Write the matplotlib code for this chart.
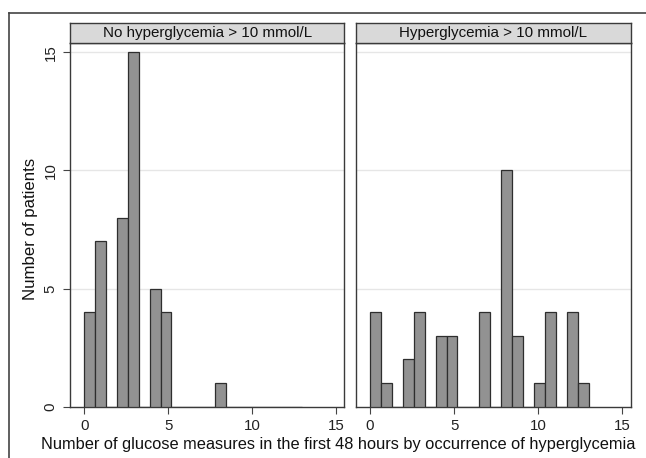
import numpy as np
import matplotlib
matplotlib.use("Agg")
import matplotlib.pyplot as plt
from matplotlib.lines import Line2D

plt.rcParams['font.family'] = ['Liberation Sans', 'DejaVu Sans']

# Data: number of glucose measures (value) and number of patients (count)
panel_titles = ["No hyperglycemia > 10 mmol/L", "Hyperglycemia > 10 mmol/L"]
no_hyper_values = [0, 1, 2, 3, 4, 5, 8]
no_hyper_counts = [4, 7, 8, 15, 5, 4, 1]
hyper_values = [0, 1, 2, 3, 4, 5, 7, 8, 9, 10, 11, 12, 13]
hyper_counts = [4, 1, 2, 4, 3, 3, 4, 10, 3, 1, 4, 4, 1]
x_ticks = [0, 5, 10, 15]
y_ticks = [0, 5, 10, 15]
xlabel = "Number of glucose measures in the first 48 hours by occurrence of hyperglycemia"
ylabel = "Number of patients"

bins = np.linspace(0, 13, 21)

W, H = 646, 458
fig = plt.figure(figsize=(W / 100, H / 100), dpi=100)
fig.patch.set_facecolor("white")

def fx(px):
    return px / W

def fy(py):
    return 1 - py / H

panels = [
    (70.0, 344.3, no_hyper_values, no_hyper_counts),
    (355.7, 630.7, hyper_values, hyper_counts),
]
top_px, bot_px = 43.3, 406.7
strip_top = 23.3
edge = "#3a3a3a"

for i, (x0, x1, vals, cnts) in enumerate(panels):
    ax = fig.add_axes([fx(x0), fy(bot_px), fx(x1 - x0), (bot_px - top_px) / H])
    ax.hist(vals, bins=bins, weights=cnts, color="#929292", edgecolor="#2e2e2e",
            linewidth=0.9, zorder=3)
    ax.set_xlim(-0.85, 15.5)
    ax.set_ylim(0, 15.38)
    for yv in y_ticks[1:]:
        ax.axhline(yv, color="#e6e6e6", lw=1.0, zorder=1)
    ax.set_xticks(x_ticks)
    ax.set_xticklabels([str(t) for t in x_ticks], fontsize=10.8, color="#222222")
    ax.tick_params(axis="x", direction="out", length=5, width=0.8, color="#444444", pad=4)
    if i == 0:
        ax.set_yticks(y_ticks)
        ax.set_yticklabels([str(t) for t in y_ticks], fontsize=10.8, rotation=90,
                           va="center", color="#222222")
        ax.tick_params(axis="y", direction="out", length=5, width=0.8, color="#444444", pad=4)
    else:
        ax.set_yticks([])
    for s in ax.spines.values():
        s.set_color(edge)
        s.set_linewidth(1.0)
    # strip header
    sax = fig.add_axes([fx(x0), fy(top_px), fx(x1 - x0), (top_px - strip_top) / H])
    sax.set_xticks([])
    sax.set_yticks([])
    sax.set_facecolor("#d9d9d9")
    for s in sax.spines.values():
        s.set_color(edge)
        s.set_linewidth(1.0)
    sax.text(0.5, 0.5, panel_titles[i], ha="center", va="center", fontsize=10.9,
             color="#111111", transform=sax.transAxes)

fig.text(fx(338.5), fy(445), xlabel, ha="center", va="center", fontsize=11.8, color="#111111")
fig.text(fx(31), fy(229), ylabel, ha="center", va="center", rotation=90, fontsize=12.1,
         color="#111111")

# outer graph-region border
fig.add_artist(Line2D([fx(9.3), fx(9.3)], [0, fy(12.7)], color="#444444", lw=1.2))
fig.add_artist(Line2D([fx(9.3), 1.0], [fy(12.7), fy(12.7)], color="#444444", lw=1.2))

fig.savefig("out.png", dpi=100)
